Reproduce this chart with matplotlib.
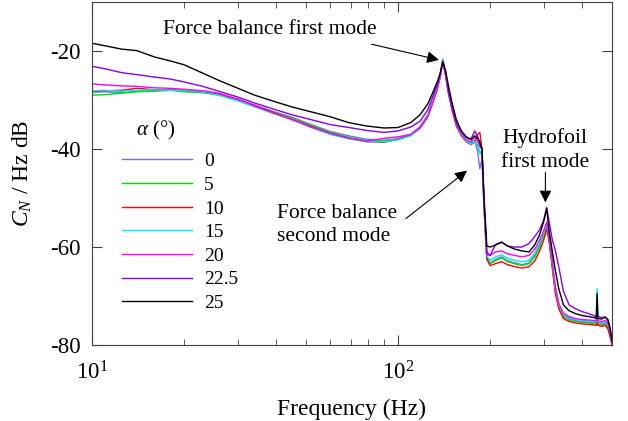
import matplotlib
matplotlib.use("Agg")
import matplotlib.pyplot as plt

plt.rcParams['font.family'] = ['Liberation Serif', 'DejaVu Serif']
plt.rcParams['mathtext.fontset'] = 'custom'
plt.rcParams['mathtext.rm'] = 'Liberation Serif'
plt.rcParams['mathtext.it'] = 'Liberation Serif:italic'
plt.rcParams['axes.unicode_minus'] = False

# frequency grid (Hz)
freq = [10, 11, 12.5, 14, 16, 18, 20, 23, 26, 30,
        34, 39, 45, 52, 60, 69, 79, 90, 100, 110,
        118, 125, 130, 134, 137, 140, 143, 146, 150, 155,
        161, 167, 173, 178, 182, 185, 188, 191, 195, 200,
        208, 218, 228, 240, 254, 268, 280, 290, 299, 306,
        312, 319, 326, 335, 347, 362, 380, 400, 420, 437,
        444, 447, 450, 462, 475, 485, 493, 500]

# spectra, dB, one list per angle of attack
cn_0 = [-28.4, -28.3, -28.5, -28.2, -28.0, -27.9, -28.1, -28.3, -28.9, -29.9,
        -31.0, -32.3, -33.5, -35.0, -36.4, -37.3, -38.0, -38.2, -37.9, -37.0,
        -35.4, -33.0, -30.0, -27.6, -25.2, -21.6, -24.5, -28.0, -31.5, -35.0,
        -37.0, -38.2, -38.8, -38.2, -40.5, -44.0, -42.0, -52.0, -62.0, -63.3,
        -62.5, -62.0, -62.8, -63.2, -63.6, -63.2, -61.6, -59.5, -57.5, -55.6,
        -58.5, -63.5, -68.5, -72.0, -74.0, -74.6, -75.0, -75.2, -75.3, -75.4,
        -75.5, -74.5, -75.5, -75.7, -75.5, -76.0, -77.5, -79.8]
cn_5 = [-29.0, -28.9, -28.6, -28.3, -28.2, -28.0, -28.3, -28.5, -29.0, -29.8,
        -31.2, -32.4, -33.7, -35.2, -36.6, -37.6, -38.3, -38.3, -38.0, -37.2,
        -35.6, -33.3, -30.3, -27.8, -25.4, -21.9, -24.8, -28.4, -31.8, -35.2,
        -37.2, -38.4, -39.0, -38.3, -39.5, -40.5, -41.0, -52.0, -62.2, -63.4,
        -62.8, -62.2, -63.0, -63.4, -63.8, -63.4, -62.0, -60.0, -58.0, -55.8,
        -58.8, -63.8, -68.8, -72.3, -74.3, -74.9, -75.2, -75.4, -75.5, -75.6,
        -75.7, -75.0, -75.7, -75.9, -75.8, -76.4, -78.0, -80.0]
cn_10 = [-28.2, -28.1, -28.0, -27.6, -27.9, -28.0, -28.0, -28.4, -28.8, -29.9,
         -31.1, -32.5, -33.9, -35.4, -36.8, -37.8, -38.5, -38.6, -38.0, -37.2,
         -35.8, -33.4, -30.4, -27.9, -25.5, -22.0, -24.9, -28.5, -31.9, -35.3,
         -37.3, -38.5, -39.1, -38.6, -37.0, -36.6, -40.0, -52.0, -62.5, -63.8,
         -63.4, -63.0, -63.6, -64.0, -64.3, -64.0, -62.8, -60.8, -58.6, -56.3,
         -59.2, -64.2, -69.2, -72.6, -74.6, -75.2, -75.5, -75.7, -75.8, -75.9,
         -76.0, -75.5, -76.0, -76.2, -76.0, -76.7, -78.3, -80.0]
cn_15 = [-28.1, -28.0, -28.2, -28.0, -27.9, -28.0, -28.0, -28.4, -29.0, -30.2,
         -31.4, -32.7, -34.0, -35.6, -37.0, -37.9, -38.5, -38.5, -38.1, -37.3,
         -35.7, -33.2, -30.2, -27.7, -25.3, -21.8, -24.7, -28.2, -31.7, -35.1,
         -37.1, -38.3, -39.0, -38.4, -39.2, -41.0, -40.5, -51.5, -61.8, -62.7,
         -62.0, -61.6, -62.3, -62.7, -63.0, -62.7, -61.2, -59.2, -57.2, -55.3,
         -58.2, -63.2, -68.2, -71.8, -73.8, -74.4, -74.8, -75.0, -75.1, -75.2,
         -75.2, -68.5, -75.2, -75.4, -75.2, -75.8, -77.3, -79.6]
cn_20 = [-26.7, -26.9, -27.1, -27.2, -27.5, -27.6, -27.8, -28.1, -28.6, -29.8,
         -31.2, -32.6, -34.0, -35.5, -36.8, -37.8, -38.4, -37.8, -37.5, -37.0,
         -35.6, -33.4, -30.4, -27.9, -25.6, -22.1, -24.9, -28.4, -31.8, -35.0,
         -36.9, -38.0, -38.5, -37.6, -38.5, -39.5, -40.0, -51.0, -61.0, -61.7,
         -61.0, -60.8, -61.4, -61.7, -62.0, -61.7, -60.4, -58.6, -56.7, -54.9,
         -57.8, -62.6, -67.8, -71.5, -73.5, -74.2, -74.6, -74.8, -74.9, -75.0,
         -75.1, -74.2, -75.1, -75.2, -75.0, -75.6, -77.2, -79.5]
cn_22 = [-23.1, -23.6, -24.4, -24.8, -25.3, -25.7, -26.3, -27.2, -28.2, -29.4,
         -30.6, -31.8, -33.0, -34.0, -35.0, -35.6, -36.2, -36.6, -36.3, -35.5,
         -34.3, -32.0, -29.2, -27.0, -24.9, -22.2, -24.6, -28.0, -31.3, -34.6,
         -36.4, -37.6, -38.0, -36.3, -37.5, -39.0, -40.0, -50.5, -61.5, -61.7,
         -59.5, -59.0, -59.8, -60.0, -60.0, -59.3, -57.8, -56.5, -54.5, -51.9,
         -55.0, -58.5, -60.5, -64.0, -69.0, -71.8, -72.6, -73.2, -73.6, -74.0,
         -74.2, -73.5, -74.2, -74.4, -74.3, -75.0, -77.0, -79.5]
cn_25 = [-18.4, -18.9, -19.6, -19.9, -21.2, -22.0, -22.8, -24.5, -26.0, -27.6,
         -29.0, -30.2, -31.4, -32.4, -33.4, -34.6, -35.3, -35.7, -35.6, -34.6,
         -33.0, -30.8, -28.4, -26.4, -24.8, -22.2, -24.0, -27.0, -30.5, -34.0,
         -36.3, -37.5, -38.0, -37.3, -37.8, -38.5, -40.0, -50.0, -59.8, -60.0,
         -59.6, -59.0, -59.8, -60.4, -60.8, -61.0, -59.5, -57.5, -54.8, -52.2,
         -57.0, -60.8, -64.5, -68.5, -71.8, -73.0, -73.6, -74.0, -74.2, -74.4,
         -74.6, -69.5, -74.6, -74.7, -74.3, -74.8, -76.5, -79.0]

labels = ['0', '5', '10', '15', '20', '22.5', '25']
series = [cn_0, cn_5, cn_10, cn_15, cn_20, cn_22, cn_25]
colors = ['#7070ff', '#00e000', '#ff0000', '#00e8f0', '#ff00ff', '#8800ee', '#000000']

fig = plt.figure(figsize=(6.28, 4.21), dpi=100)
ax = fig.add_axes([0.1465, 0.1805, 0.828, 0.8145])

for vals, lab, c in zip(series, labels, colors):
    ax.plot(freq, vals, color=c, lw=1.0, label=lab)

ax.set_xscale('log')
ax.set_xlim(10, 500)
ax.set_ylim(-80, -10)
ax.set_yticks([-80, -60, -40, -20])

for s in ax.spines.values():
    s.set_color('#404040')
ax.tick_params(which='both', direction='in', top=True, right=True,
               colors='#404040', labelcolor='black', labelsize=16.5)
ax.tick_params(which='major', length=7)
ax.tick_params(which='minor', length=4)
ax.tick_params(axis='x', pad=12)
ax.tick_params(axis='y', pad=8)

ax.set_xlabel('Frequency (Hz)', fontsize=17, labelpad=10)
ax.set_ylabel(r'$C_N$ / Hz dB', fontsize=17, labelpad=12)

# legend
leg = ax.legend(loc='upper left', bbox_to_anchor=(0.058, 0.561), frameon=False,
                fontsize=14, handlelength=3.6, handletextpad=0.6,
                labelspacing=0.31, borderpad=0, borderaxespad=0)
ax.text(0.123, 0.627, r'$\alpha$ (°)', transform=ax.transAxes, fontsize=15,
        ha='center', va='center')

# annotations
arrow = dict(arrowstyle='-|>', color='k', lw=0.8, mutation_scale=18,
             shrinkA=0, shrinkB=0)
ax.text(38, -15.5, 'Force balance first mode', fontsize=15.5, ha='center', va='center')
ax.annotate('', xy=(136, -21.8), xytext=(82, -18.6), arrowprops=arrow)

ax.text(40.1, -55.5, 'Force balance\nsecond mode', fontsize=15.5, ha='left',
        va='center', linespacing=1.3)
ax.annotate('', xy=(168, -44.4), xytext=(106, -54.2), arrowprops=arrow)

ax.text(303, -40.2, 'Hydrofoil\nfirst mode', fontsize=15.5, ha='center',
        va='center', linespacing=1.4)
ax.annotate('', xy=(303, -50.9), xytext=(303, -44.8), arrowprops=arrow)

plt.savefig('out.png', dpi=100)
